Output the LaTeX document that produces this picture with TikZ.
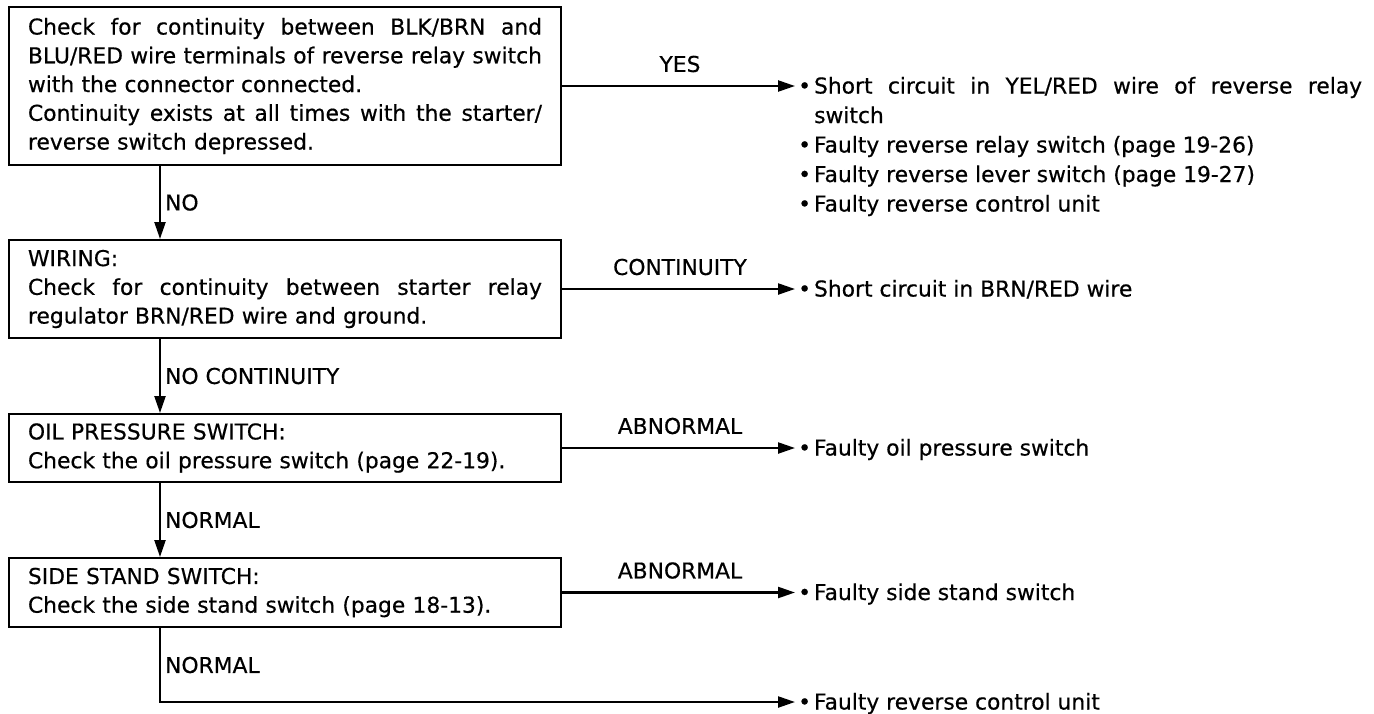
\documentclass[tikz,border=0pt]{standalone}
\usepackage{fontspec}
\setmainfont{DejaVu Sans}[FakeBold=0.5]
\usetikzlibrary{arrows.meta}
% a line stretched to the full text width of a box
\newcommand{\jline}[1]{{\spaceskip=0pt\xspaceskip=0pt\makebox[514pt][s]{#1}}}
\begin{document}
\begin{tikzpicture}[x=1pt,y=-1pt,
  every node/.style={font=\fontsize{21.8}{28.75}\selectfont},
  box/.style={draw, line width=2pt, text width=514pt, inner xsep=19pt, inner ysep=0pt, align=left},
  flow/.style={line width=2.3pt, -{Triangle[length=17pt,width=11pt]}},
  item/.style={anchor=west, inner sep=0pt, text height=18pt, text depth=3pt},
  yn/.style={midway, yshift=22pt, inner sep=0pt},
  dn/.style={anchor=west, xshift=4pt, inner sep=0pt}]
\useasboundingbox (0,0) rectangle (1374,713);
\coordinate (spine) at (160,0);

% decision boxes
\node[box, minimum height=158pt] (b1) at (285,86) {%
  \jline{Check for continuity between BLK/BRN and}\\
  \jline{BLU/RED wire terminals of reverse relay switch}\\
  with the connector connected.\\
  \jline{Continuity exists at all times with the starter/}\\
  reverse switch depressed.};
\node[box, minimum height=98pt] (b2) at (285,289) {%
  WIRING:\\
  \jline{Check for continuity between starter relay}\\
  regulator BRN/RED wire and ground.};
\node[box, minimum height=68pt] (b3) at (285,448) {%
  OIL PRESSURE SWITCH:\\
  Check the oil pressure switch (page 22-19).};
\node[box, minimum height=69pt] (b4) at (285,592.5) {%
  SIDE STAND SWITCH:\\
  Check the side stand switch (page 18-13).};

% results
\node[item] (r1) at (798,86) {•\hspace{3pt}{\spaceskip=0pt\xspaceskip=0pt\makebox[548pt][s]{Short circuit in YEL/RED wire of reverse relay}}};
\node[item] (r1b) at (814,115.5) {switch};
\node[item] (r1c) at (798,145) {•\hspace{3pt}Faulty reverse relay switch (page 19-26)};
\node[item] (r1d) at (798,174.5) {•\hspace{3pt}Faulty reverse lever switch (page 19-27)};
\node[item] (r1e) at (798,204) {•\hspace{3pt}Faulty reverse control unit};
\node[item] (r2) at (798,289) {•\hspace{3pt}Short circuit in BRN/RED wire};
\node[item] (r3) at (798,448) {•\hspace{3pt}Faulty oil pressure switch};
\node[item] (r4) at (798,592.5) {•\hspace{3pt}Faulty side stand switch};
\node[item] (r5) at (798,702) {•\hspace{3pt}Faulty reverse control unit};

% vertical flow
\draw[flow] (b1.south -| spine) -- node[dn] {NO} (b2.north -| spine);
\draw[flow] (b2.south -| spine) -- node[dn] {NO CONTINUITY} (b3.north -| spine);
\draw[flow] (b3.south -| spine) -- node[dn] {NORMAL} (b4.north -| spine);
\draw[flow, shorten >=3pt] (b4.south -| spine) |- node[dn, pos=0.25] {NORMAL} (r5.west);

% horizontal flow
\draw[flow, shorten >=3pt] (b1.east) -- node[yn] {YES} (b1.east -| r1.west);
\draw[flow, shorten >=3pt] (b2.east) -- node[yn] {CONTINUITY} (b2.east -| r2.west);
\draw[flow, shorten >=3pt] (b3.east) -- node[yn] {ABNORMAL} (b3.east -| r3.west);
\draw[flow, shorten >=3pt] (b4.east) -- node[yn] {ABNORMAL} (b4.east -| r4.west);
\end{tikzpicture}
\end{document}
